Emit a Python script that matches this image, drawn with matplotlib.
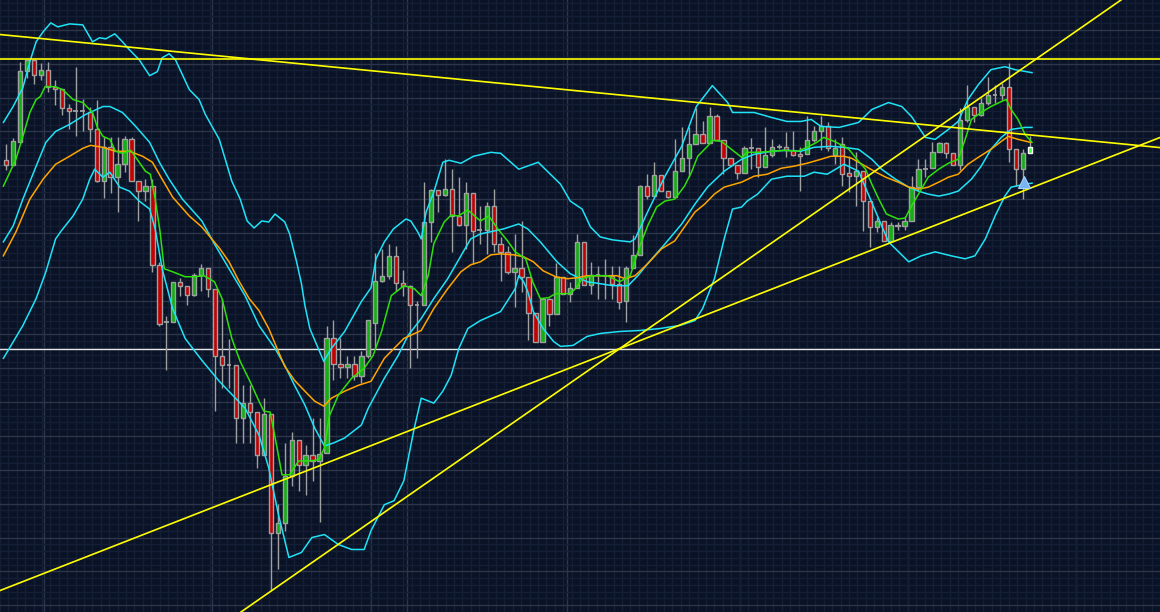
"""Daily candles with 5/25 MA, 20-period Bollinger band and hand-drawn trendlines."""

import numpy as np
import matplotlib

matplotlib.use("Agg")

import matplotlib.pyplot as plt

# OHLC per bar (arbitrary price units)
opens = [451, 446, 469, 541, 552, 537, 542, 525, 523, 504, 500, 500, 499, 482, 430, 464, 434, 447, 472, 430,
         420, 425, 346, 289, 289, 329, 325, 316, 336, 343, 322, 254, 245, 245, 192, 207, 198, 155, 196, 77,
         87, 134, 170, 145, 155, 149, 157, 272, 246, 243, 246, 234, 254, 288, 330, 335, 355, 328, 325, 306,
         306, 389, 421, 416, 422, 395, 386, 418, 381, 381, 405, 367, 359, 339, 343, 334, 298, 268, 312, 297,
         334, 317, 323, 369, 326, 336, 335, 335, 327, 310, 343, 356, 425, 415, 436, 420, 414, 440, 453, 467,
         477, 468, 495, 471, 453, 446, 438, 463, 463, 444, 456, 464, 464, 461, 457, 457, 471, 480, 485, 456,
         467, 438, 435, 440, 410, 384, 390, 370, 386, 385, 390, 424, 442, 443, 459, 468, 458, 446, 491, 505,
         496, 509, 517, 517, 525, 462, 442, 458]
highs = [467, 473, 550, 552, 553, 549, 550, 532, 523, 508, 545, 513, 505, 512, 474, 474, 474, 475, 474, 430,
         432, 432, 349, 295, 329, 333, 325, 338, 347, 343, 322, 312, 271, 245, 225, 225, 198, 212, 196, 106,
         167, 178, 170, 165, 192, 192, 285, 291, 272, 254, 254, 259, 291, 358, 362, 367, 365, 341, 326, 310,
         429, 422, 421, 452, 442, 434, 429, 418, 405, 409, 422, 374, 365, 377, 390, 334, 298, 313, 313, 348,
         334, 329, 377, 369, 349, 345, 352, 345, 345, 345, 376, 426, 437, 449, 436, 420, 472, 484, 484, 504,
         490, 505, 497, 471, 453, 446, 465, 473, 463, 484, 472, 467, 479, 480, 464, 495, 485, 495, 489, 472,
         474, 455, 459, 440, 410, 394, 390, 389, 389, 395, 435, 452, 452, 469, 469, 469, 458, 504, 527, 505,
         514, 535, 527, 529, 549, 462, 462, 475]
lows = [441, 446, 469, 534, 528, 532, 520, 507, 496, 482, 475, 480, 469, 429, 413, 418, 399, 439, 430, 390,
        410, 339, 285, 240, 289, 315, 306, 315, 320, 314, 199, 222, 222, 167, 167, 167, 142, 155, 19, 40,
        79, 124, 119, 115, 129, 88, 157, 230, 232, 232, 230, 227, 252, 262, 329, 332, 320, 315, 242, 252,
        306, 369, 399, 415, 359, 385, 362, 347, 367, 357, 359, 330, 337, 304, 319, 270, 268, 268, 285, 297,
        317, 309, 323, 326, 317, 312, 312, 312, 302, 289, 343, 356, 412, 415, 420, 413, 414, 440, 434, 467,
        468, 468, 471, 437, 446, 432, 438, 442, 434, 444, 454, 462, 454, 455, 420, 457, 469, 461, 460, 447,
        425, 419, 405, 380, 364, 379, 370, 370, 381, 381, 390, 420, 434, 443, 459, 453, 446, 441, 489, 489,
        495, 507, 509, 512, 449, 425, 412, 458]
closes = [446, 470, 541, 552, 537, 542, 525, 523, 504, 500, 500, 500, 482, 430, 464, 434, 447, 472, 430, 420,
          425, 346, 287, 289, 329, 325, 316, 336, 343, 322, 254, 245, 245, 192, 207, 198, 155, 196, 77, 87,
          134, 170, 145, 155, 149, 156, 272, 246, 243, 246, 234, 254, 291, 330, 335, 355, 328, 325, 306, 306,
          389, 421, 416, 422, 395, 386, 418, 380, 381, 405, 367, 359, 339, 343, 334, 298, 268, 312, 297, 334,
          317, 323, 369, 326, 336, 336, 335, 327, 309, 343, 356, 425, 415, 436, 420, 414, 440, 453, 467, 477,
          468, 495, 471, 453, 446, 438, 463, 463, 444, 456, 464, 464, 461, 456, 455, 471, 480, 485, 463, 463,
          437, 435, 440, 410, 384, 390, 370, 386, 385, 390, 424, 442, 442, 459, 468, 458, 446, 491, 505, 496,
          509, 517, 517, 525, 462, 442, 458, 464]

# indicator lines: (bar, value)
ma_short = [(-0.4, 425), (1.4, 452), (2.4, 475), (3.4, 499), (4.3, 512), (4.9, 515), (5.6, 525), (7.0, 525),
            (8.1, 522), (9.6, 512), (11.0, 509), (12.4, 499), (13.1, 484), (13.9, 475), (14.9, 472), (15.7, 460),
            (16.7, 458), (17.9, 461), (19.1, 449), (20.0, 440), (20.7, 437), (21.4, 412), (22.1, 379), (22.7, 342),
            (23.9, 339), (25.7, 334), (27.1, 334), (28.4, 335), (29.9, 329), (31.0, 312), (32.4, 272), (33.6, 249),
            (35.0, 229), (36.3, 209), (37.0, 199), (37.9, 198), (38.9, 162), (39.6, 135), (40.7, 135), (42.0, 149),
            (43.4, 149), (44.9, 150), (45.7, 162), (46.4, 194), (47.7, 215), (49.6, 232), (51.4, 242), (52.7, 255),
            (53.9, 279), (55.3, 315), (57.1, 325), (58.6, 322), (59.6, 315), (60.6, 335), (61.4, 367), (62.9, 389),
            (63.9, 396), (64.9, 395), (66.3, 401), (68.1, 390), (69.3, 395), (70.6, 382), (72.0, 370), (73.1, 359),
            (74.6, 352), (75.6, 329), (76.7, 312), (77.9, 313), (78.9, 317), (81.0, 317), (82.0, 324), (82.7, 332),
            (84.1, 335), (86.3, 335), (88.1, 329), (89.6, 335), (91.0, 365), (92.1, 385), (93.4, 404), (94.6, 410),
            (96.0, 412), (97.4, 425), (98.4, 439), (99.3, 455), (100.7, 465), (101.4, 471), (102.7, 470),
            (103.6, 465), (105.6, 454), (106.4, 459), (107.9, 459), (109.9, 460), (111.7, 461), (113.6, 460),
            (115.0, 464), (116.4, 469), (117.4, 474), (118.9, 470), (120.3, 465), (121.0, 462), (122.4, 450),
            (123.4, 442), (124.3, 427), (125.3, 412), (126.4, 397), (128.1, 392), (129.1, 393), (130.0, 405),
            (131.0, 417), (132.4, 434), (133.9, 442), (135.3, 448), (136.7, 452), (137.7, 472), (138.6, 492),
            (140.0, 499), (141.4, 505), (142.9, 510), (143.6, 512), (144.3, 502), (145.3, 492), (146.3, 477),
            (147.3, 469)]
ma_long = [(-0.4, 355), (1.4, 379), (3.4, 412), (5.3, 432), (7.1, 447), (9.1, 455), (11.0, 463), (12.1, 466),
           (13.9, 464), (15.7, 460), (17.7, 460), (19.6, 455), (21.0, 449), (22.4, 432), (23.9, 414), (26.3, 395),
           (28.1, 384), (30.7, 362), (32.0, 349), (33.4, 330), (34.9, 312), (36.3, 300), (37.7, 282), (38.9, 262),
           (40.0, 244), (41.4, 230), (42.9, 219), (44.3, 209), (45.6, 204), (46.7, 212), (48.6, 219), (50.6, 225),
           (52.4, 229), (54.3, 252), (57.1, 272), (59.6, 280), (61.4, 302), (63.4, 322), (65.3, 339), (66.7, 346),
           (68.1, 349), (69.6, 356), (71.0, 357), (72.9, 356), (74.3, 354), (75.7, 349),
           (77.1, 340), (78.9, 334), (80.6, 332), (82.0, 333), (83.4, 335), (85.3, 335), (87.7, 335), (88.9, 332),
           (90.3, 335), (92.1, 347), (94.1, 362), (96.0, 370), (97.4, 384), (98.9, 399), (100.3, 407),
           (101.7, 417), (103.1, 424), (105.6, 429), (107.4, 435), (109.3, 437), (111.3, 443), (113.1, 445),
           (115.0, 448), (117.0, 452), (118.4, 455), (120.3, 455), (121.4, 453), (123.4, 445), (124.9, 439),
           (126.3, 434), (128.1, 429), (129.6, 424), (131.0, 422), (132.4, 424), (133.9, 429), (135.3, 434),
           (136.7, 437), (138.1, 447), (139.6, 454), (141.4, 462), (142.9, 470), (143.9, 475), (145.3, 472),
           (147.1, 469)]
bb_upper = [(-0.4, 489), (1.0, 505), (2.4, 524), (3.4, 550), (4.3, 570), (5.3, 580), (6.4, 589), (7.4, 585),
            (9.1, 588), (11.0, 587), (12.4, 570), (13.4, 574), (14.3, 573), (15.6, 578), (16.7, 570), (17.7, 562),
            (19.1, 552), (20.6, 536), (21.7, 540), (22.4, 554), (23.4, 558), (24.3, 552), (26.3, 522), (27.7, 512),
            (28.6, 497), (30.6, 472), (32.4, 430), (33.6, 412), (34.6, 390), (35.6, 383), (36.7, 390), (37.7, 389),
            (38.6, 397), (40.0, 389), (40.7, 377), (41.7, 349), (42.4, 327), (42.9, 305), (43.6, 282), (45.6, 249),
            (46.7, 262), (48.6, 279), (51.0, 309), (52.4, 323), (53.1, 352), (54.3, 369), (55.6, 382), (57.4, 392),
            (58.1, 390), (59.1, 379), (59.6, 372), (60.3, 399), (61.4, 419), (62.7, 449), (63.6, 451), (65.3, 448),
            (67.1, 455), (69.6, 459), (71.0, 458), (73.6, 442),
            (76.4, 449), (77.7, 440), (79.6, 427), (81.0, 410), (82.7, 402), (83.9, 384), (85.3, 374), (87.1, 371),
            (89.6, 369), (90.3, 372), (92.1, 399), (94.6, 435), (97.0, 465), (99.1, 505), (101.4, 526),
            (103.6, 509), (104.3, 499), (107.4, 499), (109.9, 494), (112.1, 490), (114.1, 490), (115.6, 492),
            (117.0, 485), (119.6, 484), (122.4, 489), (124.3, 502), (126.7, 509), (128.6, 505), (130.0, 495),
            (132.0, 474), (133.4, 472), (135.3, 482), (136.7, 490), (138.1, 512), (139.6, 527), (141.4, 542),
            (143.4, 545), (144.9, 542), (147.3, 539)]
bb_mid = [(-0.4, 369), (1.0, 385), (2.4, 412), (4.3, 445), (5.7, 469), (7.1, 480), (9.1, 487), (11.4, 497),
          (13.9, 505), (14.9, 505), (16.7, 499), (18.6, 485), (20.6, 469), (22.0, 449), (23.4, 432), (25.3, 412),
          (28.1, 390), (29.9, 367), (32.0, 342), (34.3, 315), (36.3, 285), (38.6, 262), (40.0, 245), (41.4, 225),
          (42.9, 205), (44.3, 182), (45.7, 164), (47.0, 167), (48.6, 172), (51.0, 185), (52.0, 202), (54.3, 232),
          (56.3, 255), (57.7, 275), (59.6, 292), (61.4, 312), (63.4, 332), (65.3, 355), (66.7, 372), (68.1, 377),
          (71.4, 382),
          (73.6, 387), (74.9, 382), (76.7, 369), (79.1, 349), (81.0, 337), (83.4, 329), (85.3, 327), (87.1, 325),
          (89.3, 325), (90.7, 335), (92.1, 347), (94.6, 367), (97.0, 387), (98.9, 407), (100.7, 424),
          (103.1, 440), (105.6, 452), (107.4, 457), (109.9, 460), (112.1, 461), (114.1, 460), (116.0, 464),
          (118.4, 465), (120.3, 464), (122.4, 462), (124.3, 452), (125.7, 442), (127.7, 432), (129.6, 424),
          (131.0, 420), (132.4, 417), (133.9, 415), (135.3, 417), (136.7, 420), (138.6, 432), (140.0, 445),
          (141.4, 462), (142.9, 474), (144.3, 482), (146.3, 484), (147.3, 484)]
bb_lower = [(-0.4, 252), (2.4, 285), (4.3, 312), (5.7, 339), (7.1, 372), (7.9, 380), (9.6, 395), (11.0, 412),
            (12.0, 432), (12.7, 442), (13.9, 434), (14.9, 439), (16.3, 424), (17.7, 420), (19.1, 410), (20.6, 402),
            (21.4, 382), (22.4, 342), (23.9, 302), (25.7, 272), (28.1, 250), (30.6, 229), (34.3, 202), (36.3, 175),
            (37.7, 142), (39.1, 95), (40.6, 52), (42.4, 57), (43.9, 72), (45.7, 75), (47.7, 65), (49.6, 60),
            (51.4, 60), (52.4, 79), (54.3, 105), (55.7, 109), (57.1, 129), (58.6, 182), (59.6, 212), (61.4, 207),
            (62.7, 219), (63.9, 235), (65.0, 262), (66.3, 282), (68.1, 290), (71.0, 299), (73.1, 322), (73.6, 335),
            (74.3, 329),
            (74.9, 319), (75.7, 299), (77.1, 282), (78.6, 269), (79.6, 264), (81.4, 265), (83.4, 274), (85.3, 277),
            (88.1, 279), (91.0, 280), (93.9, 282), (96.7, 285), (98.9, 290), (100.0, 302), (101.7, 332),
            (103.1, 372), (104.3, 402), (105.6, 404), (106.4, 410), (107.9, 417), (109.9, 432), (112.1, 435),
            (114.6, 435), (116.0, 439), (117.9, 437), (120.3, 447), (122.4, 440), (125.3, 392), (126.7, 369),
            (129.6, 349), (131.4, 355), (133.4, 359), (135.7, 355), (137.7, 352), (139.1, 355), (140.6, 372),
            (142.0, 395), (143.4, 415), (144.3, 424), (146.3, 427), (147.3, 428)]

# trendline anchors (bar, value) and horizontal levels
resistance_level = 553
support_level = 261
falling_line = [(-0.43, 577), (165.29, 464)]
steep_line = [(34.29, 0), (88.14, 262)]
shallow_line = [(-0.43, 20), (88.14, 262)]
signal_bar, signal_value = 146.1, 429

BG = "#0a1226"
RED = "#c40000"
GREEN = "#12b012"
WICK = "#a0a0a0"
CYAN = "#1fe3f7"
YELLOW = "#ffff00"


def main() -> None:
    o = np.array(opens, dtype=float)
    h = np.array(highs, dtype=float)
    lo = np.array(lows, dtype=float)
    c = np.array(closes, dtype=float)
    idx = np.arange(len(o))

    fig = plt.figure(figsize=(11.6, 6.12), dpi=100)
    fig.patch.set_facecolor(BG)
    ax = fig.add_axes([0, 0, 1, 1])
    ax.set_facecolor(BG)
    ax.set_xlim(-0.4286, 165.286)
    ax.set_ylim(0, 612)

    # grid: coarse + fine
    ax.set_xticks([5.5, 29.6, 52.4, 57.6, 80.6, 105.4, 129.5, 153.6])
    ax.set_xticks(np.arange(129.47 - 1.207 * 108, 166, 1.207), minor=True)
    ax.set_yticks(np.arange(4, 612, 34))
    ax.set_yticks(np.arange(4 - 6.8, 612, 6.8), minor=True)
    ax.grid(which="minor", color="#141e35", lw=1.0)
    ax.grid(which="major", color="#2c3549", lw=1.0)
    ax.tick_params(which="both", length=0, labelbottom=False, labelleft=False)
    for spine in ax.spines.values():
        spine.set_visible(False)
    ax.set_axisbelow(True)

    ax.axhline(support_level, color="#e6e6e6", lw=1.0, zorder=2)

    # candles
    ax.vlines(idx, lo, h, color=WICK, lw=1.0, zorder=3)
    flat = c == o
    body = ~flat
    face = np.where(c > o, GREEN, RED)
    bars = ax.bar(idx[body], np.abs(c - o)[body], bottom=np.minimum(o, c)[body], width=0.62,
                  color=face[body], edgecolor=WICK, linewidth=1.0, zorder=4)
    ax.hlines(o[flat], idx[flat] - 0.34, idx[flat] + 0.34, color=WICK, lw=1.3, zorder=4)
    bars[-1].set_facecolor("#3cff3c")
    bars[-1].set_edgecolor("#ffffff")

    # indicators
    for pts, color in ((bb_upper, CYAN), (bb_mid, CYAN), (bb_lower, CYAN),
                       (ma_long, "#ffa500"), (ma_short, "#2ee00a")):
        xs, ys = zip(*pts)
        ax.plot(xs, ys, color=color, lw=1.1, zorder=5)

    # trendlines
    ax.axhline(resistance_level, color=YELLOW, lw=1.2, zorder=6)
    for p1, p2 in (falling_line, steep_line, shallow_line):
        ax.axline(p1, p2, color=YELLOW, lw=1.2, zorder=6)

    ax.plot([signal_bar], [signal_value], marker="^", ms=9, color="#78b4f0",
            markeredgecolor="#a9d2ff", mew=0.8, zorder=7)

    fig.savefig("out.png", dpi=100, facecolor=BG)


if __name__ == "__main__":
    main()
